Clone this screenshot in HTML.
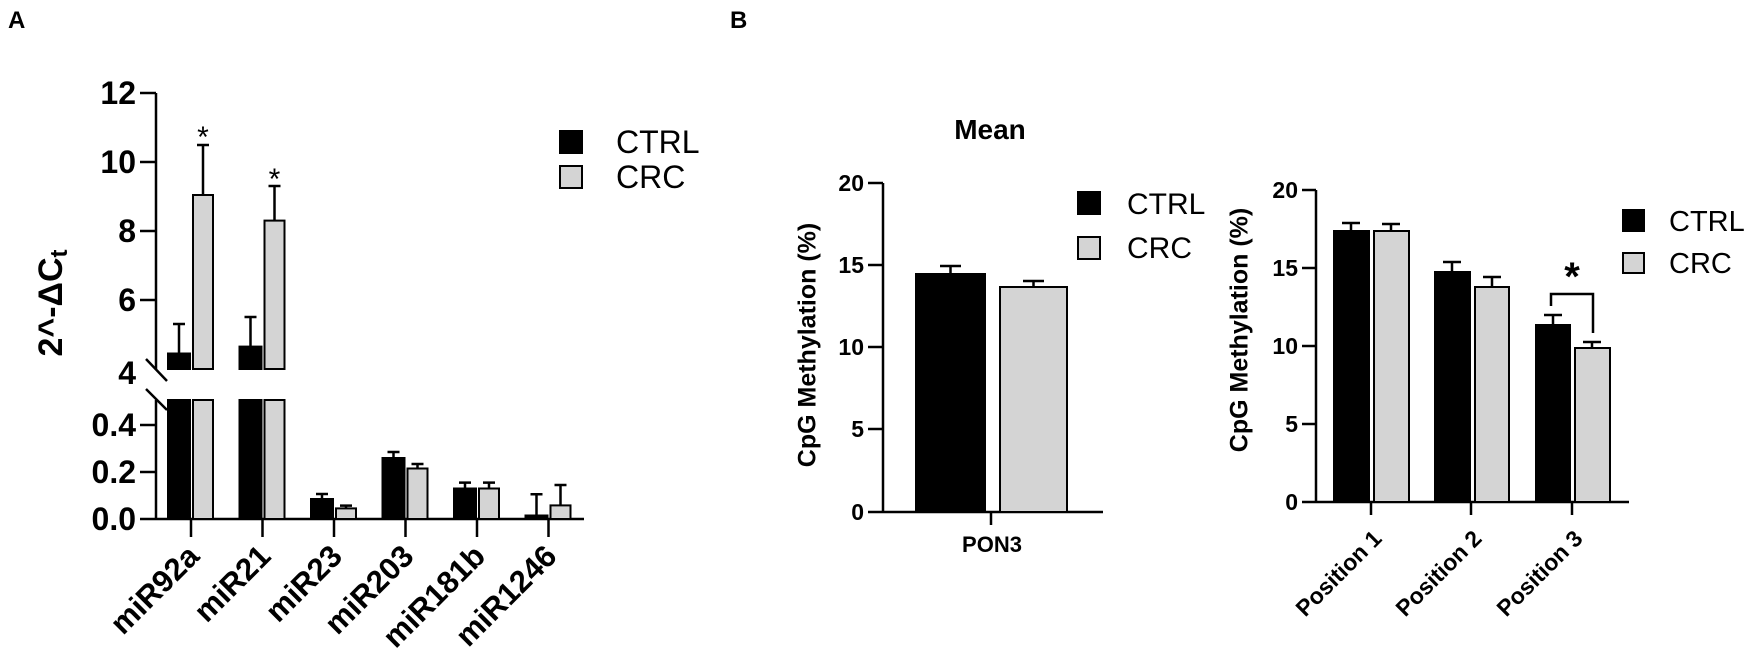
<!DOCTYPE html>
<html><head><meta charset="utf-8"><style>
html,body{margin:0;padding:0;background:#fff;}
svg{display:block;font-family:"Liberation Sans",Arial,sans-serif;}
.b{font-weight:bold;}
</style></head><body>
<svg width="1750" height="648" viewBox="0 0 1750 648" xmlns="http://www.w3.org/2000/svg">
<g stroke="#000" stroke-width="2.5" fill="none">
<line x1="156" y1="93" x2="156" y2="369"/>
<line x1="156" y1="400" x2="156" y2="519"/>
<line x1="140" y1="93" x2="156" y2="93"/>
<line x1="140" y1="162" x2="156" y2="162"/>
<line x1="140" y1="231" x2="156" y2="231"/>
<line x1="140" y1="300" x2="156" y2="300"/>
<line x1="140" y1="425" x2="156" y2="425"/>
<line x1="140" y1="472" x2="156" y2="472"/>
<line x1="140" y1="519" x2="584" y2="519"/>
<line x1="146" y1="359" x2="167" y2="381"/>
<line x1="146" y1="389" x2="167" y2="410"/>
<line x1="191" y1="519" x2="191" y2="537"/>
<line x1="262.5" y1="519" x2="262.5" y2="537"/>
<line x1="334" y1="519" x2="334" y2="537"/>
<line x1="405.5" y1="519" x2="405.5" y2="537"/>
<line x1="477" y1="519" x2="477" y2="537"/>
<line x1="548.5" y1="519" x2="548.5" y2="537"/>
</g>
<g stroke="#000" stroke-width="2">
<rect x="168" y="400" width="22" height="119" fill="#000"/>
<rect x="193" y="400" width="20" height="119" fill="#d4d4d4"/>
<rect x="168" y="353.5" width="22" height="15.5" fill="#000"/>
<rect x="193" y="195" width="20" height="174" fill="#d4d4d4"/>
<rect x="239.5" y="400" width="22" height="119" fill="#000"/>
<rect x="264.5" y="400" width="20" height="119" fill="#d4d4d4"/>
<rect x="239.5" y="346.6" width="22" height="22.4" fill="#000"/>
<rect x="264.5" y="220.6" width="20" height="148.4" fill="#d4d4d4"/>
<rect x="311" y="499" width="22" height="20" fill="#000"/>
<rect x="336" y="508.4" width="20" height="10.6" fill="#d4d4d4"/>
<rect x="382.5" y="458" width="22" height="61" fill="#000"/>
<rect x="407.5" y="468.5" width="20" height="50.5" fill="#d4d4d4"/>
<rect x="454" y="488.5" width="22" height="30.5" fill="#000"/>
<rect x="479" y="488.5" width="20" height="30.5" fill="#d4d4d4"/>
<rect x="525.5" y="515.5" width="22" height="3.5" fill="#000"/>
<rect x="550.5" y="505.4" width="20" height="13.6" fill="#d4d4d4"/>
</g>
<g stroke="#000" stroke-width="2.5" fill="none">
<path d="M179 353.5V324M173 324h12"/>
<path d="M203 195V145M197 145h12"/>
<path d="M250.5 346.6V317M244.5 317h12"/>
<path d="M274.5 220.6V186M268.5 186h12"/>
<path d="M322 499V494M316 494h12"/>
<path d="M346 508V505.6M340 505.6h12"/>
<path d="M393.5 458V452M387.5 452h12"/>
<path d="M417.5 468.5V464M411.5 464h12"/>
<path d="M465 488.5V482.6M459 482.6h12"/>
<path d="M489 488.5V482.6M483 482.6h12"/>
<path d="M536.5 515.5V494.3M530.5 494.3h12"/>
<path d="M560.5 505.4V485M554.5 485h12"/>
</g>
<g font-size="30" text-anchor="middle"><text x="203" y="147">*</text><text x="274.5" y="189">*</text></g>
<g class="b" font-size="32" text-anchor="end">
<text x="136" y="104">12</text><text x="136" y="173">10</text><text x="136" y="242">8</text>
<text x="136" y="311">6</text><text x="136" y="384">4</text><text x="136" y="436">0.4</text>
<text x="136" y="483">0.2</text><text x="136" y="530">0.0</text>
</g>
<text x="53" y="303" class="b" font-size="34" text-anchor="middle" transform="rotate(-90 53 303)" dominant-baseline="middle">2^-ΔC<tspan font-size="24" dy="8">t</tspan></text>
<g class="b" font-size="31" text-anchor="end">
<text transform="translate(201 558) rotate(-45)">miR92a</text>
<text transform="translate(272.5 558) rotate(-45)">miR21</text>
<text transform="translate(344 558) rotate(-45)">miR23</text>
<text transform="translate(415.5 558) rotate(-45)">miR203</text>
<text transform="translate(487 558) rotate(-45)">miR181b</text>
<text transform="translate(558.5 558) rotate(-45)">miR1246</text>
</g>
<rect x="560" y="131" width="22" height="22" fill="#000" stroke="#000" stroke-width="2"/>
<rect x="560" y="166" width="22" height="22" fill="#d4d4d4" stroke="#000" stroke-width="2"/>
<text x="616" y="153" font-size="32">CTRL</text>
<text x="616" y="188" font-size="32">CRC</text>
<text x="8" y="28" class="b" font-size="24">A</text>
<text x="730" y="28" class="b" font-size="24">B</text>

<text x="990" y="139" class="b" font-size="28" text-anchor="middle">Mean</text>
<g stroke="#000" stroke-width="2.5" fill="none">
<line x1="883" y1="183" x2="883" y2="512"/>
<line x1="868" y1="183" x2="883" y2="183"/>
<line x1="868" y1="265" x2="883" y2="265"/>
<line x1="868" y1="347" x2="883" y2="347"/>
<line x1="868" y1="429" x2="883" y2="429"/>
<line x1="868" y1="512" x2="1103" y2="512"/>
<line x1="991" y1="512" x2="991" y2="525"/>
</g>
<rect x="916" y="274" width="69" height="238" fill="#000" stroke="#000" stroke-width="2"/>
<rect x="1000" y="287" width="67" height="225" fill="#d4d4d4" stroke="#000" stroke-width="2"/>
<g stroke="#000" stroke-width="2.5" fill="none">
<path d="M950.5 274V266M940 266h21"/>
<path d="M1033.5 287V281M1023 281h21"/>
</g>
<g class="b" font-size="23" text-anchor="end">
<text x="864" y="191">20</text><text x="864" y="273">15</text><text x="864" y="355">10</text>
<text x="864" y="437">5</text><text x="864" y="520">0</text>
</g>
<text x="992" y="552" class="b" font-size="22" text-anchor="middle">PON3</text>
<text x="809" y="345" class="b" font-size="25" text-anchor="middle" transform="rotate(-90 809 345)" dominant-baseline="middle">CpG Methylation (%)</text>
<rect x="1078" y="192" width="22" height="22" fill="#000" stroke="#000" stroke-width="2"/>
<rect x="1078" y="237" width="22" height="22" fill="#d4d4d4" stroke="#000" stroke-width="2"/>
<text x="1127" y="214" font-size="30">CTRL</text>
<text x="1127" y="258" font-size="30">CRC</text>

<g stroke="#000" stroke-width="2.5" fill="none">
<line x1="1316" y1="190" x2="1316" y2="502"/>
<line x1="1302" y1="190" x2="1316" y2="190"/>
<line x1="1302" y1="268" x2="1316" y2="268"/>
<line x1="1302" y1="346" x2="1316" y2="346"/>
<line x1="1302" y1="424" x2="1316" y2="424"/>
<line x1="1302" y1="502" x2="1629" y2="502"/>
<line x1="1371" y1="502" x2="1371" y2="515"/>
<line x1="1471" y1="502" x2="1471" y2="515"/>
<line x1="1572" y1="502" x2="1572" y2="515"/>
</g>
<g stroke="#000" stroke-width="2">
<rect x="1334" y="231" width="35" height="271" fill="#000"/>
<rect x="1374" y="231" width="35" height="271" fill="#d4d4d4"/>
<rect x="1435" y="272" width="35" height="230" fill="#000"/>
<rect x="1475" y="287" width="34" height="215" fill="#d4d4d4"/>
<rect x="1536" y="325" width="34" height="177" fill="#000"/>
<rect x="1575" y="348" width="35" height="154" fill="#d4d4d4"/>
</g>
<g stroke="#000" stroke-width="2.5" fill="none">
<path d="M1351 231V223M1342 223h18"/>
<path d="M1391 231V224M1382 224h18"/>
<path d="M1452 272V262M1443 262h18"/>
<path d="M1492 287V277M1483 277h18"/>
<path d="M1553 325V315M1544 315h18"/>
<path d="M1592 348V342M1583 342h18"/>
<path d="M1551 306V294H1593V333"/>
</g>
<text x="1572" y="290" class="b" font-size="40" text-anchor="middle">*</text>
<g class="b" font-size="23" text-anchor="end">
<text x="1298" y="198">20</text><text x="1298" y="276">15</text><text x="1298" y="354">10</text>
<text x="1298" y="432">5</text><text x="1298" y="510">0</text>
</g>
<text x="1241" y="330" class="b" font-size="25" text-anchor="middle" transform="rotate(-90 1241 330)" dominant-baseline="middle">CpG Methylation (%)</text>
<g class="b" font-size="23" text-anchor="end">
<text transform="translate(1383 540) rotate(-45)">Position 1</text>
<text transform="translate(1483 540) rotate(-45)">Position 2</text>
<text transform="translate(1584 540) rotate(-45)">Position 3</text>
</g>
<rect x="1623" y="210" width="21" height="21" fill="#000" stroke="#000" stroke-width="2"/>
<rect x="1623" y="253" width="21" height="20" fill="#d4d4d4" stroke="#000" stroke-width="2"/>
<text x="1669" y="231" font-size="29">CTRL</text>
<text x="1669" y="273" font-size="29">CRC</text>
</svg>
</body></html>
